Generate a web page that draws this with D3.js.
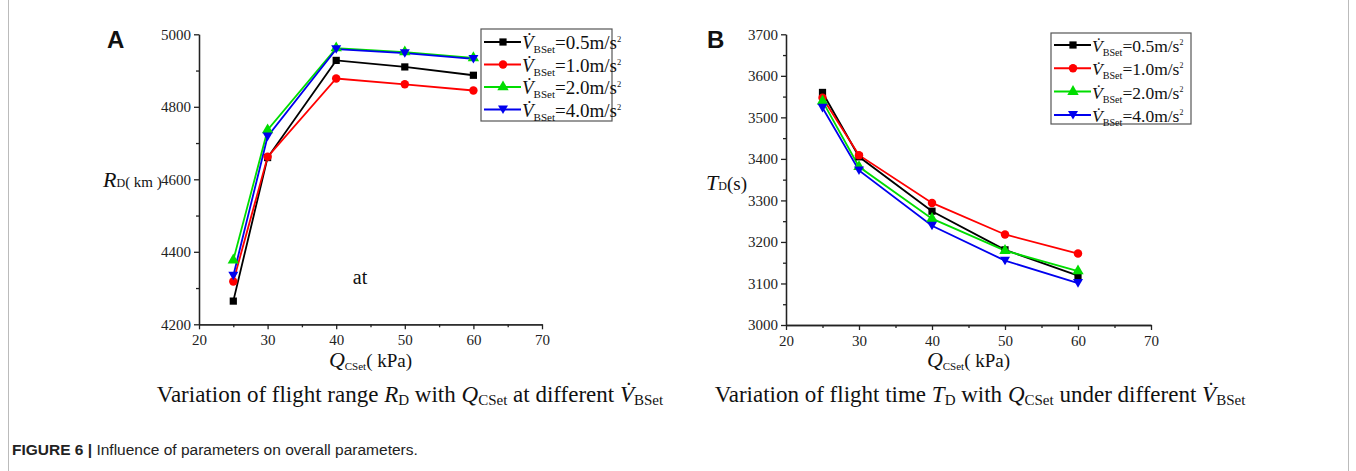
<!DOCTYPE html>
<html>
<head>
<meta charset="utf-8">
<script src="https://cdn.jsdelivr.net/npm/d3@7"></script>
<style>
  body { margin: 0; background: #fff; }
  svg { display: block; }
  .serif { font-family: "Liberation Serif", "Times New Roman", serif; }
</style>
</head>
<body>
<div id="chart"></div>
<script>
// data
var pressure = [25, 30, 40, 50, 60];
var seriesNames = ["0.5", "1.0", "2.0", "4.0"];
var seriesColors = ["#000000", "#ff0000", "#00dd00", "#0000ee"];
var seriesSymbols = ["square", "circle", "triangle", "triangleDown"];

// panel A: flight range R_D (km)
var rangeA05 = [4264, 4660, 4928, 4910, 4887];
var rangeA10 = [4318, 4662, 4878, 4862, 4845];
var rangeA20 = [4377, 4736, 4962, 4951, 4935];
var rangeA40 = [4334, 4718, 4959, 4948, 4932];

// panel B: flight time T_D (s)
var timeB05 = [3560, 3405, 3274, 3181, 3119];
var timeB10 = [3547, 3409, 3294, 3218, 3172];
var timeB20 = [3539, 3381, 3256, 3179, 3130];
var timeB40 = [3523, 3372, 3239, 3155, 3101];

var xTicks = [20, 30, 40, 50, 60, 70];
var yTicksA = [4200, 4400, 4600, 4800, 5000];
var yTicksB = [3000, 3100, 3200, 3300, 3400, 3500, 3600, 3700];

var W = 1356, H = 471;

var svg = d3.select("#chart").append("svg")
    .attr("width", W)
    .attr("height", H);

// outer gray frame
svg.append("rect")
    .attr("x", 8.5).attr("y", -2)
    .attr("width", 1340).attr("height", H + 4)
    .attr("fill", "none")
    .attr("stroke", "#bbb")
    .attr("stroke-width", 1);

// rich text helper: parts = [{t, italic, size, dy}]
function richText(g, x, y, parts, size, anchor) {
    var txt = g.append("text")
        .attr("class", "serif")
        .attr("x", x).attr("y", y)
        .attr("font-size", size)
        .attr("fill", "#111")
        .attr("text-anchor", anchor || "start");
    parts.forEach(function(p) {
        var ts = txt.append("tspan").text(p.t);
        if (p.italic) ts.attr("font-style", "italic");
        if (p.size) ts.attr("font-size", p.size);
        if (p.dy) ts.attr("dy", p.dy);
    });
    return txt;
}

function vdotParts(val, size) {
    return [
        {t: "V\u0307", italic: true},
        {t: "BSet", size: size * 0.58, dy: 4},
        {t: "=" + val + "m/s", dy: -4},
        {t: "2", size: size * 0.45, dy: -7}
    ];
}

function symbolFor(name) {
    if (name === "square") return d3.symbol().type(d3.symbolSquare).size(52)();
    if (name === "circle") return d3.symbol().type(d3.symbolCircle).size(56)();
    if (name === "triangle") return d3.symbol().type(d3.symbolTriangle).size(56)();
    return "M0,4.6L-5,-4L5,-4Z";
}

function styleAxis(sel) {
    sel.selectAll("path, line").attr("stroke", "#222").attr("stroke-width", 1.3);
    sel.selectAll("text")
        .style("font-family", "'Liberation Serif', serif")
        .style("font-size", "15px")
        .attr("fill", "#222");
}

function drawPanel(opt) {
    var g = svg.append("g");
    var x = d3.scaleLinear().domain([20, 70]).range([opt.left, opt.right]);
    var y = d3.scaleLinear().domain(opt.yDomain).range([opt.bottom, opt.top]);

    // minor ticks
    var xMinor = d3.range(25, 70, 10);
    var yStep = opt.yTicks[1] - opt.yTicks[0];
    var yMinor = opt.yTicks.slice(0, -1).map(function(v) { return v + yStep / 2; });

    g.append("g")
        .attr("transform", "translate(0," + opt.bottom + ")")
        .call(d3.axisBottom(x).tickValues(xMinor).tickSize(3).tickFormat("").tickSizeOuter(0))
        .call(styleAxis);
    g.append("g")
        .attr("transform", "translate(" + opt.left + ",0)")
        .call(d3.axisLeft(y).tickValues(yMinor).tickSize(3).tickFormat("").tickSizeOuter(0))
        .call(styleAxis);

    g.append("g")
        .attr("transform", "translate(0," + opt.bottom + ")")
        .call(d3.axisBottom(x).tickValues(xTicks).tickSize(5).tickSizeOuter(0).tickPadding(5).tickFormat(d3.format("d")))
        .call(styleAxis);

    g.append("g")
        .attr("transform", "translate(" + opt.left + ",0)")
        .call(d3.axisLeft(y).tickValues(opt.yTicks).tickSize(5).tickSizeOuter(0).tickPadding(3).tickFormat(d3.format("d")))
        .call(styleAxis);

    // lines + markers
    var line = d3.line()
        .x(function(d, i) { return x(pressure[i]); })
        .y(function(d) { return y(d); });

    opt.series.forEach(function(vals, k) {
        g.append("path")
            .datum(vals)
            .attr("d", line)
            .attr("fill", "none")
            .attr("stroke", seriesColors[k])
            .attr("stroke-width", 1.8);
    });
    opt.series.forEach(function(vals, k) {
        g.selectAll(null)
            .data(vals)
            .enter().append("path")
            .attr("d", symbolFor(seriesSymbols[k]))
            .attr("transform", function(d, i) { return "translate(" + x(pressure[i]) + "," + y(d) + ")"; })
            .attr("fill", seriesColors[k]);
    });

    // legend
    var lg = g.append("g").attr("transform", "translate(" + opt.legend.x + "," + opt.legend.y + ")");
    lg.append("rect")
        .attr("width", opt.legend.w).attr("height", opt.legend.h)
        .attr("fill", "#fff")
        .attr("stroke", "#555").attr("stroke-width", 1.2);
    seriesNames.forEach(function(name, k) {
        var ry = opt.legend.row0 + k * opt.legend.step;
        lg.append("line")
            .attr("x1", 3).attr("x2", opt.legend.lineW)
            .attr("y1", ry).attr("y2", ry)
            .attr("stroke", seriesColors[k]).attr("stroke-width", 2);
        lg.append("path")
            .attr("d", symbolFor(seriesSymbols[k]))
            .attr("transform", "translate(" + (opt.legend.lineW / 2 + 2) + "," + ry + ")")
            .attr("fill", seriesColors[k]);
        richText(lg, opt.legend.lineW + 1, ry + 7, vdotParts(name, opt.legend.font), opt.legend.font);
    });

    // panel letter
    g.append("text")
        .attr("x", opt.letterX).attr("y", 48)
        .attr("font-family", "Liberation Sans, Arial, sans-serif")
        .attr("font-weight", "bold")
        .attr("font-size", 24)
        .attr("fill", "#111")
        .text(opt.letter);

    // y title
    richText(g, opt.yTitleX, opt.yTitleY, opt.yTitle, 22);

    // x title
    richText(g, (opt.left + opt.right) / 2, 367, [
        {t: "Q", italic: true},
        {t: "CSet", size: 11, dy: 3},
        {t: "( kPa)", size: 19, dy: -3}
    ], 22, "middle");

    // subtitle
    richText(g, opt.subX, 402, opt.subtitle, 23, "middle");
}

drawPanel({
    letter: "A", letterX: 107,
    left: 199, right: 542, top: 34.3, bottom: 324.3,
    yDomain: [4200, 5000], yTicks: yTicksA,
    series: [rangeA05, rangeA10, rangeA20, rangeA40],
    legend: {x: 481, y: 29, w: 131, h: 92, row0: 13, step: 22.5, lineW: 40, font: 19},
    yTitleX: 103, yTitleY: 187,
    yTitle: [{t: "R", italic: true, size: 22}, {t: "D", size: 12}, {t: "( km )", size: 15}],
    subX: 410,
    subtitle: [
        {t: "Variation of flight range "}, {t: "R", italic: true}, {t: "D", size: 15, dy: 3},
        {t: " with ", dy: -3}, {t: "Q", italic: true}, {t: "CSet", size: 15, dy: 3},
        {t: " at different ", dy: -3}, {t: "V\u0307", italic: true}, {t: "BSet", size: 15, dy: 3}
    ]
});

drawPanel({
    letter: "B", letterX: 707,
    left: 786, right: 1151, top: 34.3, bottom: 325,
    yDomain: [3000, 3700], yTicks: yTicksB,
    series: [timeB05, timeB10, timeB20, timeB40],
    legend: {x: 1051, y: 33, w: 140, h: 91, row0: 12, step: 23.3, lineW: 40, font: 17.5},
    yTitleX: 706, yTitleY: 190,
    yTitle: [{t: "T", italic: true, size: 22}, {t: "D", size: 12}, {t: "(s)", size: 19}],
    subX: 980,
    subtitle: [
        {t: "Variation of flight time "}, {t: "T", italic: true}, {t: "D", size: 15, dy: 3},
        {t: " with ", dy: -3}, {t: "Q", italic: true}, {t: "CSet", size: 15, dy: 3},
        {t: " under different ", dy: -3}, {t: "V\u0307", italic: true}, {t: "BSet", size: 15, dy: 3}
    ]
});

// stray "at" label sitting inside panel A
svg.append("text")
    .attr("class", "serif")
    .attr("x", 360).attr("y", 284)
    .attr("text-anchor", "middle")
    .attr("font-size", 20)
    .attr("fill", "#111")
    .text("at");

// figure caption
var cap = svg.append("text")
    .attr("x", 12).attr("y", 455)
    .attr("font-family", "Liberation Sans, Arial, sans-serif")
    .attr("font-size", 15.5)
    .attr("fill", "#222");
cap.append("tspan").attr("font-weight", "bold").text("FIGURE 6 | ");
cap.append("tspan").text("Influence of parameters on overall parameters.");
</script>
</body>
</html>
